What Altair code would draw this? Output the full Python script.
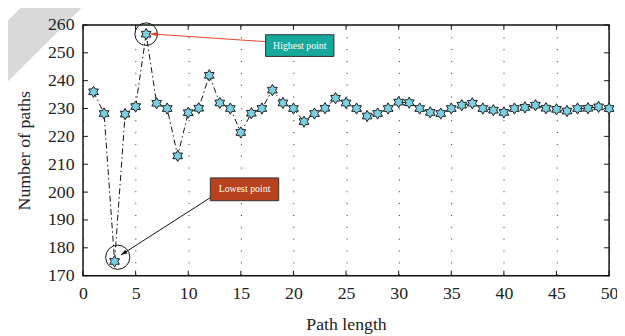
import math
import altair as alt
import pandas as pd

# ---- data ----
path_length = list(range(1, 51))
num_paths = [236.0, 228.2, 175.1, 228.0, 230.7, 256.7, 231.9, 230.0, 213.0, 228.5,
             230.1, 241.9, 232.0, 230.0, 221.4, 228.3, 230.0, 236.6, 232.0, 230.0,
             225.3, 228.2, 230.1, 233.7, 232.0, 230.0, 227.3, 228.2, 230.0, 232.3,
             232.1, 230.0, 228.6, 228.2, 230.0, 231.2, 231.9, 230.0, 229.4, 228.6,
             230.0, 230.4, 231.2, 230.1, 229.7, 229.1, 230.0, 230.1, 230.6, 230.0]
x_ticks = [0, 5, 10, 15, 20, 25, 30, 35, 40, 45, 50]
y_ticks = [170, 180, 190, 200, 210, 220, 230, 240, 250, 260]

# annotations (data units)
label_text = ["Highest point", "Lowest point"]
label_x = [17.35, 12.1]
label_x2 = [23.85, 18.6]
label_y = [256.5, 205.1]
label_y2 = [248.7, 196.9]
label_fill = ["#17a89c", "#b8411e"]
arrow_x = [17.35, 12.1]
arrow_y = [254.0, 198.0]
arrow_tx = [6.4, 3.6]
arrow_ty = [256.8, 177.4]
arrow_color = ["#e8402a", "#111111"]
circle_x = [6.0, 3.3]
circle_y = [256.7, 176.6]
circle_size = [520, 600]

W, H = 533, 254
XD, YD = (0, 50), (170, 260)
pxx = W / (XD[1] - XD[0])
pxy = H / (YD[1] - YD[0])
SERIF = "Liberation Serif"

df = pd.DataFrame({"x": path_length, "y": num_paths})
labels = pd.DataFrame({"t": label_text, "x": label_x, "x2": label_x2, "y": label_y,
                       "y2": label_y2, "fill": label_fill,
                       "cx": [(a + b) / 2 for a, b in zip(label_x, label_x2)],
                       "cy": [(a + b) / 2 for a, b in zip(label_y, label_y2)]})
angles = []
for sx, sy, tx, ty in zip(arrow_x, arrow_y, arrow_tx, arrow_ty):
    dx = (tx - sx) * pxx
    dy = -(ty - sy) * pxy
    angles.append(math.degrees(math.atan2(dx, -dy)) % 360)
arrows = pd.DataFrame({"x": arrow_x, "y": arrow_y, "tx": arrow_tx, "ty": arrow_ty,
                       "c": arrow_color, "a": angles})
circles = pd.DataFrame({"x": circle_x, "y": circle_y, "s": circle_size})
xt = pd.DataFrame({"v": x_ticks})
yt = pd.DataFrame({"v": y_ticks})

xs = alt.Scale(domain=list(XD), nice=False, zero=False)
ys = alt.Scale(domain=list(YD), nice=False, zero=False)

AX = alt.Axis(values=x_ticks, grid=True, ticks=False, domain=False,
              gridDash=[1, 11], gridColor="#222222", gridOpacity=1,
              labelFlush=False, labelOverlap=False,
              labelFont=SERIF, titleFont=SERIF, labelFontSize=18,
              titleFontSize=18, labelPadding=9, titlePadding=14)
AY = alt.Axis(values=y_ticks, grid=False, ticks=False, domain=False,
              labelOverlap=False, labelFont=SERIF, titleFont=SERIF,
              labelFontSize=18, titleFontSize=18, labelPadding=9,
              titlePadding=14, zindex=1)


def X(f):
    return alt.X(f, scale=xs, axis=AX, title="Path length")


def Y(f):
    return alt.Y(f, scale=ys, axis=AY, title="Number of paths")


# hexagram path
pts = []
for k in range(12):
    ang = math.radians(-90 + 30 * k)
    r = 1.0 if k % 2 == 0 else 0.58
    pts.append(f"{r*math.cos(ang):.3f},{r*math.sin(ang):.3f}")
hexagram = "M" + "L".join(pts) + "Z"
arrowhead = "M0,0L-0.7,2.2L0.7,2.2Z"

base = alt.Chart(df)

band = alt.Chart(df).mark_rule(color="#d9d9d9", strokeWidth=43, strokeCap="butt").encode(
    x=alt.value(-104), y=alt.value(54.5), x2=alt.value(-6.5), y2=alt.value(-43))

line = base.mark_line(color="#111111", strokeWidth=1, strokeDash=[6, 3, 1.5, 3]).encode(
    x=X("x:Q"), y=Y("y:Q"))

stars = base.mark_point(shape=hexagram, filled=True, fill="#7cd0e4", stroke="#1a1a1a",
                        strokeWidth=1, size=130, opacity=1).encode(
    x=X("x:Q"), y=Y("y:Q"))

rings = alt.Chart(circles).mark_point(shape="circle", filled=False, color="#111111",
                                      strokeWidth=1, opacity=1).encode(
    x=X("x:Q"), y=Y("y:Q"), size=alt.Size("s:Q", scale=None, legend=None))

arrow_lines = alt.Chart(arrows).mark_rule(strokeWidth=1).encode(
    x=X("x:Q"), y=Y("y:Q"), x2="tx:Q", y2="ty:Q",
    color=alt.Color("c:N", scale=None, legend=None))

arrow_heads = alt.Chart(arrows).mark_point(shape=arrowhead, filled=True, size=36,
                                           opacity=1).encode(
    x=X("tx:Q"), y=Y("ty:Q"), angle=alt.Angle("a:Q", scale=None),
    color=alt.Color("c:N", scale=None, legend=None))

boxes = alt.Chart(labels).mark_rect(stroke="#333333", strokeWidth=1).encode(
    x=X("x:Q"), x2="x2:Q", y=Y("y:Q"), y2="y2:Q",
    fill=alt.Fill("fill:N", scale=None, legend=None))

box_text = alt.Chart(labels).mark_text(color="white", font=SERIF,
                                       fontSize=10, baseline="middle").encode(
    x=X("cx:Q"), y=Y("cy:Q"), text="t:N")

tick_l = alt.Chart(yt).mark_rule(color="#111111", strokeWidth=1).encode(
    y=Y("v:Q"), x=alt.value(0), x2=alt.value(5))
tick_r = alt.Chart(yt).mark_rule(color="#111111", strokeWidth=1).encode(
    y=Y("v:Q"), x=alt.value(W - 5), x2=alt.value(W))
tick_b = alt.Chart(xt).mark_rule(color="#111111", strokeWidth=1).encode(
    x=X("v:Q"), y=alt.value(H - 5), y2=alt.value(H))
tick_t = alt.Chart(xt).mark_rule(color="#111111", strokeWidth=1).encode(
    x=X("v:Q"), y=alt.value(0), y2=alt.value(5))

chart = alt.layer(band, line, tick_l, tick_r, tick_b, tick_t, stars, rings,
                  arrow_lines, arrow_heads, boxes, box_text).properties(
    width=W, height=H,
    autosize=alt.AutoSizeParams(type="none"),
    padding={"left": 76, "top": 15, "right": 8, "bottom": 62},
).configure_view(stroke="#111111", strokeWidth=1.5).configure_axis(
    labelColor="#222222", titleColor="#222222", titleFontWeight="normal")

chart.save("out.html", embed_options={"renderer": "svg", "actions": False})
